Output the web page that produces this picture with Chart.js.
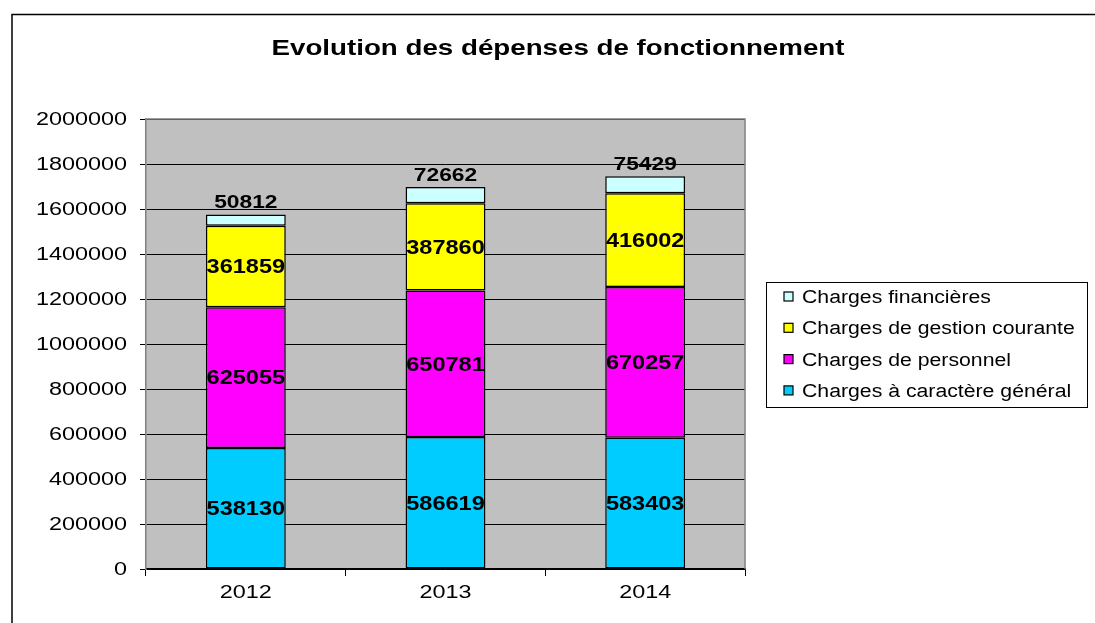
<!DOCTYPE html>
<html>
<head>
<meta charset="utf-8">
<script src="https://cdn.jsdelivr.net/npm/chart.js@4/dist/chart.umd.min.js"></script>
<style>
html,body{margin:0;padding:0;background:#fff;}
#wrap{position:relative;width:1095px;height:623px;}
</style>
</head>
<body>
<div id="wrap"><canvas id="c" width="1095" height="623"></canvas></div>
<script>
const categories = ['2012', '2013', '2014'];
const chargesGeneral = [538130, 586619, 583403];
const chargesPersonnel = [625055, 650781, 670257];
const chargesGestion = [361859, 387860, 416002];
const chargesFinancieres = [50812, 72662, 75429];
const seriesNames = ['Charges à caractère général', 'Charges de personnel', 'Charges de gestion courante', 'Charges financières'];
const seriesColors = ['#00CCFF', '#FF00FF', '#FFFF00', '#CCFFFF'];
const titleText = 'Evolution des dépenses de fonctionnement';
const yMax = 2000000, yStep = 200000;

const FONT = '"Liberation Sans", Arial, sans-serif';

function txt(ctx, s, x, y, font, sx, align, baseline) {
  ctx.save();
  ctx.font = font;
  ctx.fillStyle = '#000';
  ctx.textAlign = align;
  ctx.textBaseline = baseline;
  ctx.translate(x, y);
  ctx.scale(sx, 1);
  ctx.fillText(s, 0, 0);
  ctx.restore();
}

const decor = {
  id: 'decor',
  beforeDraw(chart) {
    const ctx = chart.ctx, a = chart.chartArea;
    ctx.save();
    ctx.fillStyle = '#fff';
    ctx.fillRect(0, 0, chart.width, chart.height);
    ctx.fillStyle = '#C0C0C0';
    ctx.fillRect(a.left, a.top, a.right - a.left, a.bottom - a.top);
    ctx.restore();
  },
  beforeDatasetsDraw(chart) {
    const ctx = chart.ctx, a = chart.chartArea;
    ctx.save();
    ctx.strokeStyle = '#808080';
    ctx.lineWidth = 1.5;
    ctx.beginPath();
    ctx.moveTo(a.left, a.top); ctx.lineTo(a.right, a.top); ctx.lineTo(a.right, a.bottom);
    ctx.stroke();
    ctx.restore();
  },
  afterDatasetsDraw(chart) {
    const ctx = chart.ctx;
    chart.data.datasets.forEach((ds, di) => {
      const meta = chart.getDatasetMeta(di);
      meta.data.forEach((el, i) => {
        const v = ds.data[i];
        if (di < 3) {
          txt(ctx, String(v), el.x, (el.y + el.base) / 2 + 1, 'bold 21px ' + FONT, 1.12, 'center', 'middle');
        } else {
          txt(ctx, String(v), el.x, el.y - 2, 'bold 19px ' + FONT, 1.2, 'center', 'bottom');
        }
      });
    });
  },
  afterDraw(chart) {
    const ctx = chart.ctx;
    // axis tick labels (drawn from the library's scales)
    const ys = chart.scales.y, xs = chart.scales.x;
    ys.ticks.forEach((t, i) => {
      txt(ctx, String(t.value), 127, ys.getPixelForTick(i) + 1, '18px ' + FONT, 1.3, 'right', 'middle');
    });
    xs.ticks.forEach((t, i) => {
      txt(ctx, categories[t.value], xs.getPixelForTick(i), 593, '18px ' + FONT, 1.3, 'center', 'middle');
    });
    ctx.save();
    // outer frame
    ctx.strokeStyle = '#000';
    ctx.lineWidth = 1.5;
    ctx.beginPath();
    ctx.moveTo(12, 623); ctx.lineTo(12, 14.5); ctx.lineTo(1095, 14.5);
    ctx.stroke();
    ctx.restore();
    // title
    txt(ctx, titleText, 558, 49, 'bold 22px ' + FONT, 1.26, 'center', 'middle');
    // legend
    ctx.save();
    ctx.strokeStyle = '#000';
    ctx.lineWidth = 1;
    ctx.strokeRect(766.5, 282.5, 321, 125);
    const order = [3, 2, 1, 0];
    order.forEach((di, k) => {
      const y = 297 + k * 31.3;
      ctx.fillStyle = seriesColors[di];
      ctx.fillRect(784, y - 5, 9, 9);
      ctx.strokeStyle = '#000';
      ctx.lineWidth = 1.2;
      ctx.strokeRect(784, y - 5, 9, 9);
      txt(ctx, seriesNames[di], 802, y + 1, '18px ' + FONT, 1.18, 'left', 'middle');
    });
    ctx.restore();
  }
};

const datasets = [chargesGeneral, chargesPersonnel, chargesGestion, chargesFinancieres].map((d, i) => ({
  label: seriesNames[i],
  data: d,
  backgroundColor: seriesColors[i],
  borderColor: '#000',
  borderWidth: 1.5,
  borderSkipped: false,
  barPercentage: 0.4,
  categoryPercentage: 1.0
}));

new Chart(document.getElementById('c'), {
  type: 'bar',
  data: { labels: categories, datasets },
  options: {
    responsive: false,
    animation: false,
    devicePixelRatio: 1,
    layout: { padding: { left: 0, right: 350, top: 119, bottom: 0 } },
    plugins: { legend: { display: false }, title: { display: false }, tooltip: { enabled: false } },
    scales: {
      x: {
        stacked: true,
        grid: { drawOnChartArea: false, drawTicks: true, tickLength: 7, color: '#000', offset: true },
        border: { color: '#000', width: 1.5 },
        ticks: { color: 'rgba(0,0,0,0)', font: { family: FONT, size: 18 }, padding: 6, maxRotation: 0 },
        afterFit(s) { s.height = 54; }
      },
      y: {
        stacked: true,
        min: 0, max: yMax,
        grid: { color: '#000', lineWidth: 1, tickLength: 6 },
        border: { color: '#808080', width: 1.5 },
        ticks: { stepSize: yStep, color: 'rgba(0,0,0,0)', font: { family: FONT, size: 18 }, padding: 12, callback: v => String(v) },
        afterFit(s) { s.width = 146; }
      }
    }
  },
  plugins: [decor]
});
</script>
</body>
</html>
